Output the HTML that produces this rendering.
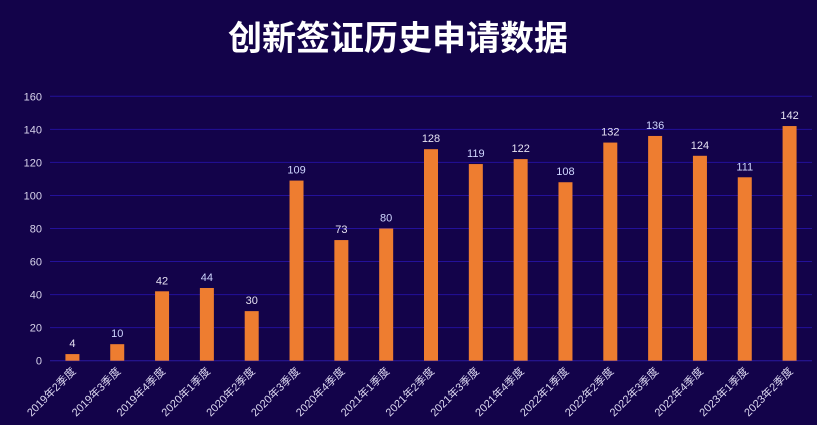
<!DOCTYPE html>
<html><head><meta charset="utf-8"><style>
html,body{margin:0;padding:0;background:#13034a;width:817px;height:425px;overflow:hidden}
svg text{font-family:"Liberation Sans","Noto Sans CJK SC",sans-serif}
</style></head><body>
<svg id="c" width="817" height="425" xmlns="http://www.w3.org/2000/svg">
<rect width="817" height="425" fill="#13034a"/>
<text x="398" y="50" text-anchor="middle" font-size="34" font-weight="bold" fill="#ffffff" font-family="'Liberation Sans','Noto Sans CJK SC',sans-serif">创新签证历史申请数据</text>
<g id="grid"></g><g id="bars"></g><g id="xl"></g>
</svg>
<script>
const categories=["2019年2季度","2019年3季度","2019年4季度","2020年1季度","2020年2季度","2020年3季度","2020年4季度","2021年1季度","2021年2季度","2021年3季度","2021年4季度","2022年1季度","2022年2季度","2022年3季度","2022年4季度","2023年1季度","2023年2季度"];
const values=[4,10,42,44,30,109,73,80,128,119,122,108,132,136,124,111,142];
const yTicks=[0,20,40,60,80,100,120,140,160];
const X0=50,X1=812,Y0=360.7,Y1=96.3,YMAX=160;
const band=(X1-X0)/categories.length;
const xc=i=>X0+band*(i+0.5);
const y=v=>Y0-(v/YMAX)*(Y0-Y1);
const NS="http://www.w3.org/2000/svg";
function mk(t,a,p){const e=document.createElementNS(NS,t);for(const k in a)e.setAttribute(k,a[k]);p.appendChild(e);return e;}
const g=document.getElementById('grid');
yTicks.forEach(v=>{
 const l=mk('line',{x1:X0,x2:X1,y1:y(v),y2:y(v),stroke:v===0?'#2a1aa0':'#23119a','stroke-width':1},g);
 
 
 const t=mk('text',{x:42,y:y(v)+4,'text-anchor':'end','font-size':11,fill:'#d8d4ec'},g);
 t.textContent=v;
 
 
});
const b=document.getElementById('bars');
values.forEach((v,i)=>{
 const r=mk('rect',{x:xc(i)-7,y:y(v),width:14,height:Y0-y(v),fill:'#ee7d30'},b);
 
 
 const t=mk('text',{x:xc(i),y:y(v)-7,'text-anchor':'middle','font-size':11,fill:(i%2?'#cfd6ff':'#e6e2f2')},b);
 t.textContent=v;
 
 
});
const xl=document.getElementById('xl');
categories.forEach((c,i)=>{
 const x=xc(i)+4,yy=372;
 const t=mk('text',{x:x,y:yy,'text-anchor':'end','font-size':11,fill:'#dcd8f0',transform:`rotate(-45 ${x} ${yy})`},xl);
 t.textContent=c;
 
 
});
</script>
</body></html>
